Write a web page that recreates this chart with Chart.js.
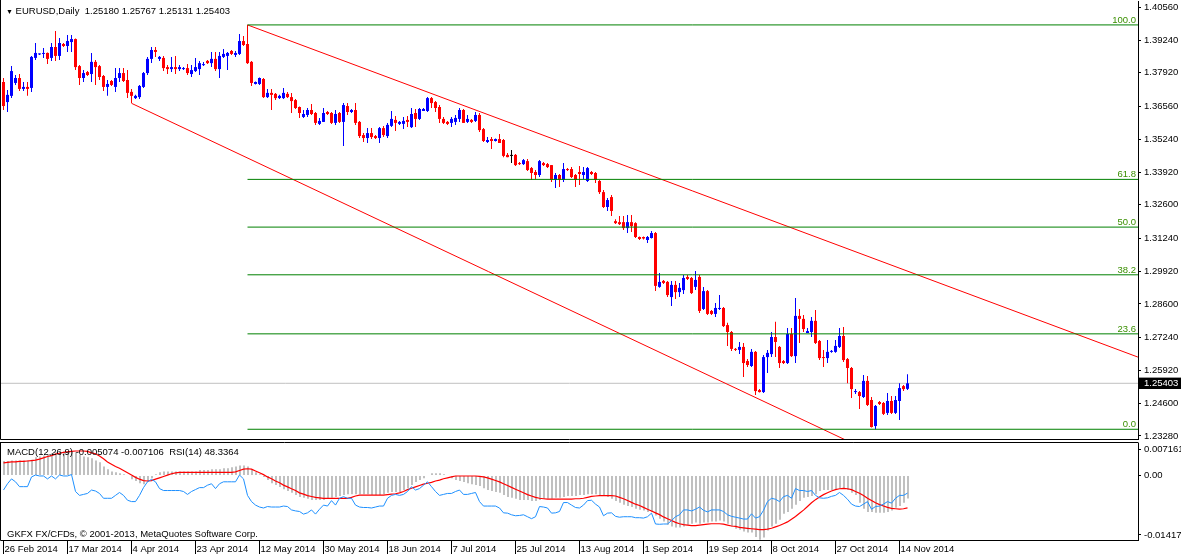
<!DOCTYPE html>
<html>
<head>
<meta charset="utf-8">
<script src="https://cdn.jsdelivr.net/npm/chart.js@4.4.1/dist/chart.umd.min.js"></script>
<style>
  body { margin: 0; background: #fff; width: 1181px; height: 559px; overflow: hidden; position: relative; }
  canvas { position: absolute; left: 0; }
  #main { top: 0; }
  #sub { top: 441px; }
  .lbl { position: absolute; white-space: pre; color: #000; font: 9.5px "Liberation Sans", Arial, sans-serif; line-height: 11px; }
</style>
</head>
<body>
<canvas id="main" width="1181" height="441" style="width:1181px;height:441px"></canvas>
<canvas id="sub" width="1181" height="118" style="width:1181px;height:118px"></canvas>
<div class="lbl" style="left:6px;top:5px"><span style="font-size:7px">&#9660;</span> EURUSD,Daily  1.25180 1.25767 1.25131 1.25403</div>
<div class="lbl" style="left:7px;top:446px">MACD(12,26,9) -0.005074 -0.007106  RSI(14) 48.3364</div>
<div class="lbl" style="left:7px;top:528px">GKFX FX/CFDs, © 2001-2013, MetaQuotes Software Corp.</div>
<script>
// EURUSD daily, 26 Feb 2014 .. 17 Nov 2014 (one bar per day, Sunday bars included)
const tickLabels = ['26 Feb 2014', '17 Mar 2014', '4 Apr 2014', '23 Apr 2014', '12 May 2014', '30 May 2014', '18 Jun 2014',
  '7 Jul 2014', '25 Jul 2014', '13 Aug 2014', '1 Sep 2014', '19 Sep 2014', '8 Oct 2014', '27 Oct 2014', '14 Nov 2014'];
const tickEvery = 16;

const open = [1.3755,1.3674,1.3699,1.3751,1.3771,1.3727,1.3735,1.3731,1.3852,1.3866,
1.3868,1.3872,1.3852,1.3896,1.3860,1.3908,1.3900,1.3916,1.3928,1.3819,
1.3771,1.3795,1.3787,1.3836,1.3819,1.3779,1.3735,1.3759,1.3735,1.3771,
1.3791,1.3763,1.3715,1.3690,1.3694,1.3735,1.3791,1.3848,1.3884,1.3848,
1.3852,1.3815,1.3807,1.3815,1.3807,1.3807,1.3811,1.3787,1.3799,1.3807,
1.3823,1.3840,1.3831,1.3848,1.3807,1.3856,1.3860,1.3880,1.3864,1.3868,
1.3920,1.3908,1.3836,1.3747,1.3747,1.3767,1.3694,1.3711,1.3707,1.3690,
1.3690,1.3707,1.3694,1.3682,1.3654,1.3614,1.3622,1.3642,1.3630,1.3586,
1.3594,1.3634,1.3630,1.3590,1.3630,1.3594,1.3658,1.3634,1.3642,1.3594,
1.3541,1.3529,1.3549,1.3537,1.3529,1.3569,1.3537,1.3578,1.3602,1.3586,
1.3586,1.3602,1.3573,1.3630,1.3606,1.3638,1.3638,1.3690,1.3674,1.3654,
1.3606,1.3594,1.3590,1.3594,1.3606,1.3642,1.3594,1.3602,1.3598,1.3622,
1.3565,1.3513,1.3525,1.3517,1.3525,1.3521,1.3461,1.3457,1.3461,1.3428,
1.3424,1.3436,1.3408,1.3392,1.3380,1.3428,1.3424,1.3420,1.3360,1.3380,
1.3360,1.3404,1.3404,1.3380,1.3392,1.3380,1.3356,1.3392,1.3388,1.3356,
1.3311,1.3251,1.3291,1.3194,1.3190,1.3190,1.3166,1.3190,1.3186,1.3130,
1.3130,1.3118,1.3126,1.3146,1.2929,1.2953,1.2949,1.2888,1.2937,1.2908,
1.2916,1.2969,1.2965,1.2929,1.2969,1.2840,1.2912,1.2832,1.2820,1.2840,
1.2844,1.2775,1.2747,1.2679,1.2675,1.2687,1.2630,1.2610,1.2667,1.2513,
1.2505,1.2646,1.2658,1.2727,1.2687,1.2630,1.2622,1.2739,1.2650,1.2812,
1.2800,1.2743,1.2747,1.2792,1.2711,1.2646,1.2642,1.2667,1.2667,1.2687,
1.2731,1.2638,1.2602,1.2505,1.2505,1.2485,1.2550,1.2473,1.2368,1.2465,
1.2461,1.2421,1.2469,1.2421,1.2469,1.2529,1.25180];

const high = [1.3771,1.3723,1.3819,1.3783,1.3787,1.3755,1.3755,1.3860,1.3912,1.3870,
1.3892,1.3874,1.3912,1.3960,1.3932,1.3912,1.3944,1.3944,1.3930,1.3823,
1.3803,1.3799,1.3872,1.3844,1.3823,1.3783,1.3763,1.3763,1.3811,1.3811,
1.3811,1.3803,1.3727,1.3703,1.3743,1.3795,1.3856,1.3896,1.3896,1.3860,
1.3860,1.3823,1.3856,1.3860,1.3823,1.3815,1.3827,1.3823,1.3852,1.3840,
1.3836,1.3844,1.3876,1.3876,1.3876,1.3888,1.3876,1.3884,1.3880,1.3948,
1.3940,1.3985,1.3840,1.3757,1.3773,1.3771,1.3727,1.3727,1.3711,1.3703,
1.3731,1.3715,1.3711,1.3686,1.3656,1.3642,1.3650,1.3666,1.3634,1.3610,
1.3650,1.3638,1.3634,1.3642,1.3634,1.3670,1.3670,1.3646,1.3670,1.3598,
1.3549,1.3569,1.3569,1.3541,1.3573,1.3578,1.3590,1.3638,1.3618,1.3598,
1.3614,1.3618,1.3650,1.3646,1.3650,1.3650,1.3694,1.3694,1.3678,1.3662,
1.3614,1.3598,1.3614,1.3622,1.3650,1.3646,1.3622,1.3606,1.3634,1.3630,
1.3569,1.3533,1.3533,1.3527,1.3545,1.3525,1.3469,1.3481,1.3465,1.3432,
1.3444,1.3444,1.3412,1.3400,1.3440,1.3432,1.3428,1.3420,1.3388,1.3384,
1.3428,1.3408,1.3412,1.3384,1.3416,1.3412,1.3412,1.3396,1.3392,1.3360,
1.3320,1.3287,1.3299,1.3202,1.3215,1.3215,1.3219,1.3219,1.3190,1.3132,
1.3132,1.3134,1.3154,1.3150,1.2985,1.2957,1.2953,1.2953,1.2953,1.2945,
1.2977,1.2977,1.2969,1.2993,1.2977,1.2929,1.2916,1.2836,1.2864,1.2896,
1.2848,1.2784,1.2751,1.2683,1.2707,1.2703,1.2638,1.2679,1.2671,1.2517,
1.2654,1.2675,1.2747,1.2788,1.2691,1.2634,1.2763,1.2763,1.2884,1.2840,
1.2816,1.2763,1.2808,1.2836,1.2715,1.2675,1.2715,1.2675,1.2715,1.2763,
1.2767,1.2642,1.2606,1.2517,1.2509,1.2574,1.2570,1.2485,1.2453,1.2469,
1.2465,1.2501,1.2489,1.2489,1.2541,1.2533,1.25767];

const low = [1.3642,1.3634,1.3690,1.3743,1.3719,1.3719,1.3699,1.3715,1.3844,1.3864,
1.3852,1.3827,1.3840,1.3840,1.3844,1.3896,1.3876,1.3876,1.3803,1.3743,
1.3755,1.3779,1.3755,1.3743,1.3763,1.3719,1.3699,1.3739,1.3715,1.3755,
1.3755,1.3690,1.3670,1.3686,1.3686,1.3731,1.3783,1.3831,1.3856,1.3840,
1.3799,1.3787,1.3795,1.3787,1.3799,1.3803,1.3783,1.3775,1.3795,1.3783,
1.3819,1.3827,1.3815,1.3799,1.3771,1.3852,1.3803,1.3864,1.3856,1.3864,
1.3900,1.3827,1.3739,1.3745,1.3743,1.3690,1.3690,1.3642,1.3682,1.3686,
1.3686,1.3690,1.3630,1.3646,1.3610,1.3610,1.3614,1.3622,1.3582,1.3582,
1.3594,1.3622,1.3586,1.3582,1.3590,1.3497,1.3622,1.3630,1.3582,1.3529,
1.3513,1.3509,1.3525,1.3525,1.3509,1.3533,1.3529,1.3573,1.3557,1.3582,
1.3565,1.3573,1.3569,1.3573,1.3602,1.3638,1.3634,1.3650,1.3634,1.3590,
1.3586,1.3582,1.3573,1.3582,1.3594,1.3590,1.3590,1.3590,1.3594,1.3553,
1.3513,1.3509,1.3485,1.3515,1.3509,1.3452,1.3452,1.3428,1.3416,1.3420,
1.3420,1.3396,1.3360,1.3364,1.3372,1.3416,1.3408,1.3352,1.3328,1.3332,
1.3352,1.3396,1.3368,1.3332,1.3340,1.3364,1.3352,1.3380,1.3348,1.3303,
1.3247,1.3235,1.3215,1.3182,1.3178,1.3158,1.3146,1.3150,1.3126,1.3118,
1.3120,1.3106,1.3124,1.2912,1.2925,1.2941,1.2888,1.2852,1.2880,1.2888,
1.2900,1.2957,1.2900,1.2916,1.2824,1.2836,1.2816,1.2816,1.2808,1.2836,
1.2767,1.2691,1.2671,1.2671,1.2658,1.2566,1.2606,1.2606,1.2493,1.2503,
1.2501,1.2582,1.2646,1.2646,1.2602,1.2618,1.2618,1.2646,1.2622,1.2703,
1.2747,1.2743,1.2727,1.2699,1.2634,1.2606,1.2622,1.2663,1.2663,1.2683,
1.2626,1.2541,1.2481,1.2497,1.2437,1.2481,1.2449,1.2362,1.2355,1.2453,
1.2413,1.2413,1.2417,1.2417,1.2392,1.2509,1.25131];

const close = [1.3658,1.3703,1.3799,1.3771,1.3727,1.3735,1.3727,1.3856,1.3872,1.3868,
1.3872,1.3848,1.3896,1.3860,1.3912,1.3900,1.3920,1.3928,1.3815,1.3771,
1.3791,1.3783,1.3836,1.3815,1.3775,1.3735,1.3747,1.3743,1.3771,1.3791,
1.3759,1.3711,1.3699,1.3699,1.3739,1.3791,1.3848,1.3884,1.3876,1.3856,
1.3811,1.3807,1.3815,1.3807,1.3815,1.3811,1.3791,1.3803,1.3815,1.3831,
1.3827,1.3831,1.3848,1.3807,1.3860,1.3868,1.3872,1.3868,1.3872,1.3920,
1.3904,1.3831,1.3751,1.3755,1.3771,1.3694,1.3711,1.3703,1.3690,1.3699,
1.3711,1.3694,1.3678,1.3650,1.3630,1.3626,1.3642,1.3626,1.3590,1.3598,
1.3630,1.3626,1.3590,1.3626,1.3594,1.3662,1.3634,1.3642,1.3590,1.3537,
1.3529,1.3549,1.3533,1.3529,1.3569,1.3541,1.3582,1.3606,1.3590,1.3594,
1.3598,1.3594,1.3626,1.3606,1.3646,1.3646,1.3690,1.3670,1.3650,1.3606,
1.3590,1.3586,1.3606,1.3610,1.3642,1.3590,1.3606,1.3594,1.3622,1.3561,
1.3517,1.3521,1.3517,1.3525,1.3509,1.3457,1.3452,1.3457,1.3420,1.3424,
1.3440,1.3400,1.3388,1.3380,1.3436,1.3420,1.3412,1.3360,1.3380,1.3360,
1.3404,1.3400,1.3372,1.3360,1.3384,1.3392,1.3408,1.3384,1.3360,1.3311,
1.3251,1.3279,1.3235,1.3186,1.3182,1.3166,1.3190,1.3174,1.3130,1.3122,
1.3124,1.3130,1.3146,1.2933,1.2949,1.2945,1.2896,1.2937,1.2908,1.2925,
1.2965,1.2961,1.2904,1.2957,1.2832,1.2912,1.2820,1.2820,1.2844,1.2844,
1.2771,1.2747,1.2679,1.2675,1.2687,1.2622,1.2614,1.2667,1.2509,1.2505,
1.2646,1.2663,1.2727,1.2707,1.2622,1.2622,1.2739,1.2650,1.2812,1.2800,
1.2759,1.2751,1.2792,1.2703,1.2642,1.2642,1.2667,1.2671,1.2691,1.2731,
1.2634,1.2602,1.2517,1.2509,1.2489,1.2550,1.2453,1.2364,1.2449,1.2457,
1.2417,1.2469,1.2421,1.2473,1.2521,1.2517,1.25403];

// MACD(12,26,9): main (histogram) and signal
const macd = [0.0032,0.0032,0.0033,0.0033,0.0033,0.0033,0.0033,0.0035,0.0040,0.0042,
0.0044,0.0046,0.0049,0.0051,0.0052,0.0053,0.0053,0.0053,0.0051,0.0046,
0.0042,0.0040,0.0038,0.0033,0.0029,0.0020,0.0014,0.0009,0.0007,0.0005,
0.0003,-0.0001,-0.0008,-0.0012,-0.0017,-0.0019,-0.0014,-0.0006,0.0003,0.0007,
0.0009,0.0009,0.0009,0.0009,0.0009,0.0009,0.0009,0.0009,0.0009,0.0012,
0.0012,0.0012,0.0014,0.0014,0.0014,0.0016,0.0016,0.0018,0.0020,0.0022,
0.0022,0.0020,0.0014,0.0007,0.0003,-0.0003,-0.0010,-0.0017,-0.0021,-0.0025,
-0.0030,-0.0034,-0.0038,-0.0043,-0.0047,-0.0049,-0.0051,-0.0054,-0.0054,-0.0054,
-0.0054,-0.0051,-0.0049,-0.0047,-0.0045,-0.0043,-0.0041,-0.0041,-0.0041,-0.0041,
-0.0041,-0.0041,-0.0043,-0.0043,-0.0043,-0.0041,-0.0038,-0.0036,-0.0036,-0.0036,
-0.0032,-0.0028,-0.0021,-0.0014,-0.0010,-0.0006,0.0001,0.0005,0.0005,0.0005,
0.0003,-0.0001,-0.0006,-0.0010,-0.0012,-0.0014,-0.0017,-0.0019,-0.0021,-0.0023,
-0.0028,-0.0032,-0.0034,-0.0036,-0.0038,-0.0043,-0.0047,-0.0049,-0.0051,-0.0054,
-0.0054,-0.0054,-0.0056,-0.0056,-0.0054,-0.0051,-0.0051,-0.0051,-0.0049,-0.0049,
-0.0047,-0.0045,-0.0045,-0.0045,-0.0043,-0.0043,-0.0041,-0.0041,-0.0041,-0.0043,
-0.0045,-0.0047,-0.0051,-0.0056,-0.0060,-0.0064,-0.0067,-0.0069,-0.0073,-0.0075,
-0.0077,-0.0080,-0.0080,-0.0088,-0.0095,-0.0101,-0.0108,-0.0112,-0.0114,-0.0114,
-0.0112,-0.0108,-0.0106,-0.0103,-0.0106,-0.0103,-0.0103,-0.0101,-0.0101,-0.0099,
-0.0101,-0.0106,-0.0112,-0.0117,-0.0119,-0.0123,-0.0125,-0.0125,-0.0135,-0.0141,
-0.0136,-0.0121,-0.0112,-0.0106,-0.0097,-0.0084,-0.0080,-0.0073,-0.0064,-0.0056,
-0.0049,-0.0047,-0.0045,-0.0041,-0.0034,-0.0032,-0.0032,-0.0032,-0.0030,-0.0028,
-0.0028,-0.0032,-0.0038,-0.0043,-0.0060,-0.0073,-0.0080,-0.0080,-0.0082,-0.0082,
-0.0082,-0.0080,-0.0077,-0.0071,-0.0067,-0.0060,-0.005074];

const signal = [0.0028,0.0029,0.0030,0.0030,0.0031,0.0031,0.0032,0.0033,0.0034,0.0036,
0.0039,0.0042,0.0044,0.0047,0.0049,0.0051,0.0052,0.0053,0.0054,0.0054,
0.0054,0.0053,0.0050,0.0048,0.0043,0.0037,0.0030,0.0025,0.0020,0.0016,
0.0011,0.0006,0.0001,-0.0004,-0.0008,-0.0011,-0.0012,-0.0011,-0.0008,-0.0005,
-0.0002,0.0001,0.0004,0.0006,0.0007,0.0007,0.0007,0.0007,0.0007,0.0007,
0.0007,0.0007,0.0007,0.0007,0.0007,0.0007,0.0007,0.0007,0.0008,0.0011,
0.0014,0.0015,0.0014,0.0010,0.0006,0.0002,-0.0003,-0.0007,-0.0012,-0.0016,
-0.0021,-0.0025,-0.0029,-0.0033,-0.0038,-0.0041,-0.0044,-0.0046,-0.0048,-0.0049,
-0.0050,-0.0050,-0.0050,-0.0050,-0.0050,-0.0050,-0.0050,-0.0048,-0.0045,-0.0043,
-0.0043,-0.0043,-0.0043,-0.0043,-0.0043,-0.0043,-0.0042,-0.0041,-0.0040,-0.0038,
-0.0035,-0.0031,-0.0028,-0.0025,-0.0022,-0.0019,-0.0017,-0.0015,-0.0012,-0.0010,
-0.0007,-0.0005,-0.0003,-0.0001,-0.0001,-0.0001,-0.0001,-0.0001,-0.0001,-0.0002,
-0.0003,-0.0005,-0.0008,-0.0011,-0.0014,-0.0018,-0.0022,-0.0026,-0.0030,-0.0034,
-0.0038,-0.0042,-0.0045,-0.0048,-0.0050,-0.0051,-0.0052,-0.0052,-0.0052,-0.0052,
-0.0052,-0.0052,-0.0052,-0.0051,-0.0051,-0.0050,-0.0048,-0.0046,-0.0045,-0.0044,
-0.0044,-0.0044,-0.0044,-0.0045,-0.0048,-0.0051,-0.0055,-0.0059,-0.0063,-0.0066,
-0.0070,-0.0074,-0.0078,-0.0082,-0.0086,-0.0091,-0.0095,-0.0099,-0.0103,-0.0106,
-0.0108,-0.0109,-0.0110,-0.0110,-0.0109,-0.0108,-0.0107,-0.0106,-0.0106,-0.0106,
-0.0107,-0.0109,-0.0111,-0.0112,-0.0114,-0.0115,-0.0116,-0.0117,-0.0118,-0.0119,
-0.0119,-0.0118,-0.0116,-0.0113,-0.0110,-0.0106,-0.0102,-0.0096,-0.0090,-0.0083,
-0.0076,-0.0068,-0.0060,-0.0053,-0.0047,-0.0042,-0.0038,-0.0034,-0.0031,-0.0029,
-0.0028,-0.0029,-0.0031,-0.0035,-0.0039,-0.0044,-0.0050,-0.0055,-0.0060,-0.0064,
-0.0067,-0.0070,-0.0072,-0.0073,-0.0074,-0.0073,-0.007106];

// RSI(14), drawn in the same window on its own 0..100 scale
const rsi = [51.5,58,63,60,55,55,55,65,67,66,
66,63,66,63,67,66,66,67.5,50,46,
47,48,51.5,50.5,48,43,43,43,46,49,
46,41,39.6,39.6,46,54,60,62.5,60,53,
51,51,51,51,51,50,47,50,52,54,
54,56.5,58,53,58,60,60,60,60,67,
63,46,39.6,36,34,33,34.5,34,34,34,
35,34.5,31,30,29.4,26.7,28,31,26.7,31.7,
36,35,40.6,36,43,44.7,43,43,36,34,
33.5,33.5,33,34,35,35,43,46,47,46,
47,50,55,51.5,53,56.5,60,55,50,46,
47,48,48,50,51.5,47,47,48,49,39.6,
35,35,35,35,33,28,27.7,26,25,25.3,
26,24,22,24,34.5,34,33,27.7,28,29.4,
38.6,38.6,36,33.5,33,36,40.6,41,37,34,
25,27.7,28,24.4,23.5,24,24,24,23,23,
22.6,24,27.7,16.5,16.2,16.5,16.5,20,24,26,
31,31,30,31.7,34,30.6,29,31,31,31,
29.4,26,24.4,23.5,22.6,21.6,21.6,27,22.6,24,
30.6,39.6,43,42,39.6,44.7,46,43,53,51,
51,50,51,46,43.5,43,43.5,45,46,49,
46,42,37,35,34.5,37,39.6,31.7,34.5,35,
37,39.6,38,43,46,46,48.3364];

// price scale labels and drawn objects
const priceTicks = [1.40560, 1.39240, 1.37920, 1.36560, 1.35240, 1.33920, 1.32600, 1.31240,
  1.29920, 1.28600, 1.27240, 1.25920, 1.24600, 1.23280];
const macdLabels = ['0.007161', '0.00', '-0.014177'];
const fibHigh = { bar: 61, price: 1.3985 };
const fibLow = { bar: 218, price: 1.2355 };
const fibLevels = [100.0, 61.8, 50.0, 38.2, 23.6, 0.0];
const upperLine = [{ x: 61, y: 1.3985 }, { x: 283.6, y: 1.2646 }];
const lowerLine = [{ x: 32, y: 1.3669 }, { x: 210.5, y: 1.2312 }];

const lastClose = close[close.length - 1];
const xMin = -0.625, xMax = xMin + 1137 / 4;
const FONT = '"Liberation Sans", Arial, sans-serif';
Chart.defaults.font.family = FONT;
Chart.defaults.font.size = 9.5;
Chart.defaults.color = '#000';

const candleColor = open.map((o, i) => close[i] > o ? '#0000ff' : close[i] < o ? '#ff0000' : '#000000');
const fibPrice = lv => fibLow.price + (fibHigh.price - fibLow.price) * lv / 100;

const frame = {
  id: 'frame',
  afterDraw(c, args, o) {
    const { ctx, chartArea: a } = c;
    ctx.save();
    ctx.strokeStyle = '#000';
    ctx.lineWidth = 1;
    ctx.beginPath();
    ctx.moveTo(0.5, o.top ? a.top - 0.5 : 0);
    ctx.lineTo(0.5, a.bottom + 0.5);
    ctx.lineTo(a.right + 0.5, a.bottom + 0.5);
    if (o.top) { ctx.moveTo(0, a.top - 0.5); ctx.lineTo(a.right + 0.5, a.top - 0.5); }
    ctx.stroke();
    ctx.restore();
  }
};

const fibText = {
  id: 'fibText',
  afterDatasetsDraw(c) {
    const { ctx, chartArea: a, scales: { y } } = c;
    ctx.save();
    ctx.font = '9.5px ' + FONT;
    ctx.fillStyle = '#3a8f00';
    ctx.textAlign = 'right';
    ctx.textBaseline = 'alphabetic';
    fibLevels.forEach(lv => ctx.fillText(lv.toFixed(1), a.right - 2, y.getPixelForValue(fibPrice(lv)) - 2));
    ctx.restore();
  }
};

const lineSet = (data, color, order) => ({
  type: 'line', data, borderColor: color, borderWidth: 1, pointRadius: 0, fill: false, order
});

new Chart(document.getElementById('main'), {
  type: 'bar',
  data: {
    datasets: [
      ...fibLevels.map(lv => lineSet([{ x: fibHigh.bar, y: fibPrice(lv) }, { x: xMax, y: fibPrice(lv) }], '#008000', 0)),
      lineSet(upperLine, '#ff0000', 0),
      lineSet(lowerLine, '#ff0000', 0),
      {
        data: open.map((o, i) => ({ x: i, y: [o, close[i]] })),
        backgroundColor: candleColor, barThickness: 3, minBarLength: 1,
        grouped: false, inflateAmount: 0, borderWidth: 0, order: 1
      },
      {
        data: low.map((l, i) => ({ x: i, y: [l, high[i]] })),
        backgroundColor: candleColor, barThickness: 1, minBarLength: 1,
        grouped: false, inflateAmount: 0, borderWidth: 0, order: 2
      },
      lineSet([{ x: xMin, y: lastClose }, { x: xMax, y: lastClose }], '#c0c0c0', 3)
    ]
  },
  options: {
    responsive: false, animation: false, events: [],
    layout: { padding: { left: 1, top: 1, right: 0, bottom: 2 } },
    plugins: { legend: { display: false }, tooltip: { enabled: false }, frame: { top: false } },
    scales: {
      x: { type: 'linear', min: xMin, max: xMax, offset: false, display: false, grid: { offset: false } },
      y: {
        position: 'right', min: 1.23158, max: 1.40814,
        afterBuildTicks: s => { s.ticks = priceTicks.concat([lastClose]).map(v => ({ value: v })); },
        afterFit: s => { s.width = 43; s.paddingTop = 0; s.paddingBottom = 0; },
        grid: { drawOnChartArea: false, tickLength: 3, color: '#000' },
        border: { color: '#000' },
        ticks: {
          padding: 3, autoSkip: false,
          callback: v => v.toFixed(5),
          color: c => c.tick && c.tick.value === lastClose ? '#fff' : '#000',
          showLabelBackdrop: c => !!(c.tick && c.tick.value === lastClose),
          backdropColor: '#000',
          backdropPadding: { left: 5, right: 5, top: 0, bottom: 0 }
        }
      }
    }
  },
  plugins: [frame, fibText]
});

// MACD/RSI window: label rows sit just inside the top and bottom edges
const subMax = 0.007161, subMin = -0.014177;
const subTickPos = [0.005731, 0, -0.013077];

new Chart(document.getElementById('sub'), {
  type: 'bar',
  data: {
    datasets: [
      { type: 'line', data: rsi.map((v, i) => ({ x: i, y: v })), yAxisID: 'y2', borderColor: '#1e90ff', borderWidth: 1, pointRadius: 0, order: 0 },
      { type: 'line', data: signal.map((v, i) => ({ x: i, y: v })), borderColor: '#ff0000', borderWidth: 1.2, pointRadius: 0, order: 1 },
      { data: macd.map((v, i) => ({ x: i, y: v })), xAxisID: 'xh', backgroundColor: '#c0c0c0', barThickness: 2, grouped: false, inflateAmount: 0, borderWidth: 0, order: 2 }
    ]
  },
  options: {
    responsive: false, animation: false, events: [],
    layout: { padding: { left: 1, top: 2, right: 0, bottom: 0 } },
    plugins: { legend: { display: false }, tooltip: { enabled: false }, frame: { top: true } },
    scales: {
      x: {
        type: 'linear', min: xMin, max: xMax, offset: false,
        afterBuildTicks: s => { s.ticks = tickLabels.map((_, k) => ({ value: k * tickEvery })); },
        afterFit: s => { s.height = 19; s.paddingLeft = 0; s.paddingRight = 0; },
        grid: { drawOnChartArea: false, offset: false, tickLength: 14, color: '#000' },
        border: { color: '#000' },
        ticks: { align: 'start', labelOffset: 1, padding: -10, maxRotation: 0, autoSkip: false, callback: (v, i) => tickLabels[i] }
      },
      // same bar spacing, shifted half a pixel so the 2px histogram columns stay crisp
      xh: { type: 'linear', display: false, offset: false, min: xMin - 0.125, max: xMax - 0.125, grid: { offset: false } },
      y: {
        position: 'right', min: subMin, max: subMax,
        afterBuildTicks: s => { s.ticks = subTickPos.map(v => ({ value: v })); },
        afterFit: s => { s.width = 43; s.paddingTop = 0; s.paddingBottom = 0; },
        grid: { drawOnChartArea: false, tickLength: 3, color: '#000' },
        border: { color: '#000' },
        ticks: { padding: 3, autoSkip: false, callback: (v, i) => macdLabels[i] }
      },
      y2: { display: false, min: 0, max: 100 }
    }
  },
  plugins: [frame]
});
</script>
</body>
</html>
